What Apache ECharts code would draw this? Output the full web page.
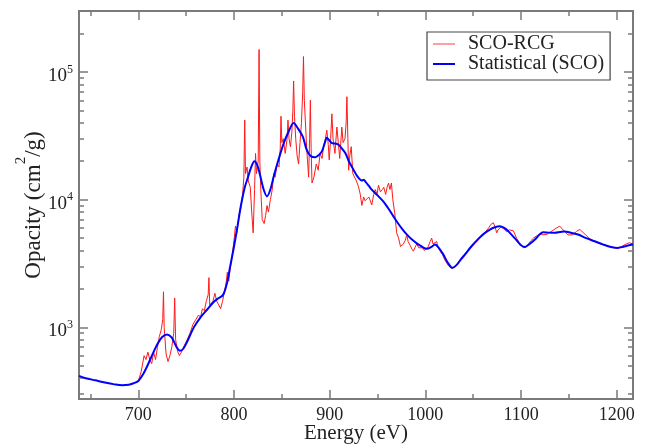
<!DOCTYPE html>
<html>
<head>
<meta charset="utf-8">
<script src="https://cdn.jsdelivr.net/npm/echarts@6/dist/echarts.min.js"></script>
<style>html,body{margin:0;padding:0;background:#fff}#c{width:649px;height:445px}</style>
</head>
<body>
<div id="c"></div>
<script>
// SCO-RCG (red, detailed spectrum)
var rcgEnergy = [700,703,706,708,710,712,714,716,718,720,722,724,725.5,726.3,727,729,731,733,735,737,738,739,741,743,745,748,751,754,757,760,763,765,767,769,771,773,773.8,774.6,776,778,780,782,784,786,788,790,792,793,794.5,796,798,800,801.5,803,805,807,809,810.3,811.2,812,813.6,815,817,818.5,820,821.5,822.5,823.5,825.3,826.2,827,828,829.5,831.5,833,834.5,836,838,840,841.5,843,845,847,848.3,849.1,850,851.5,853.5,855.5,856.4,857.5,859,860.5,861.5,862.3,863.2,864.5,866,867.5,869,870.5,871.8,872.6,873.5,874.5,876,878,879,879.8,880.6,881.5,883.5,886,888,890,892,893.6,895.5,897,898.5,899.5,901,902.3,903.5,905.5,907.5,909,910.5,912.7,914,916,917.2,918,919,919.8,921,922.5,924.2,926,928,930,932,933.6,935.5,937,938.8,941,944,946,947.6,949.5,951,953,955,956.5,958.5,960,961.5,963,964.5,966,968,970,972,974,975.5,977,979,980.5,982,984,986,987.5,989,991,993,995,997,999,1001,1003,1005,1006.6,1008,1010,1011.8,1013,1015,1018,1020.5,1024,1028,1032,1036,1040,1044,1048,1052,1055,1058.8,1062,1066,1068.5,1071,1073,1074.5,1076,1079,1082,1085,1088,1090,1092,1095.3,1098,1101,1104,1107,1110,1113,1116,1120,1123,1127,1131,1134,1137,1140.5,1143,1146,1149,1151,1154,1158,1161.5,1164,1167,1171,1175,1180,1185,1190,1195,1200,1205,1210,1213,1217];
var rcgOpacity = [380,450,600,560,640,560,520,640,560,700,850,960,1150,1900,1000,620,540,600,700,900,1700,800,650,600,640,720,800,900,1050,1150,1250,1200,1400,1350,1600,1800,2450,1500,1500,1600,1850,1600,1500,1400,1600,1900,2300,2700,2300,2900,3600,4800,6200,5500,7500,8500,11000,15000,42000,16000,18000,14000,12500,8000,5500,12000,23000,16000,20000,150000,20000,12000,7000,6500,7500,9000,8000,10000,12000,16000,15000,19000,18000,25000,45000,28000,30000,23000,30000,42000,30000,26000,34000,50000,85000,45000,30000,22000,19000,28000,40000,70000,132000,60000,42000,25000,15000,30000,60000,25000,13500,15000,19000,17000,23000,21000,26000,30000,35000,27000,20500,30000,47000,30000,23000,37000,28000,21000,37000,28000,30000,40000,64000,30000,17000,22000,26000,16000,15000,14000,12700,11000,9000,10500,9800,9500,10500,9100,11000,12000,11000,13000,11500,12000,12500,11000,12500,13500,12000,13500,10000,7800,5500,5000,4300,4200,4500,4800,5300,4700,4400,4100,3950,4200,4500,4200,4100,4200,4000,4100,4300,4700,5000,4500,4500,4700,4300,4000,3700,3350,3050,2900,3050,3350,3700,3950,4250,4550,4800,5200,5500,6000,6400,6600,6100,5500,5800,6100,5900,5600,5800,6000,5700,5000,4600,4300,4200,4400,4750,5000,5200,5400,5300,5350,5600,5800,6000,6200,5900,5600,5300,5150,5300,5650,5850,5600,5350,5000,4800,4600,4450,4350,4250,4200,4300,4500,4600,4500];
// Statistical (SCO) (blue, smooth)
var scoEnergy = [638,645,655,665,675,683,690,695,700,705,710,715,720,725,730,735,740,743.5,747,752,758,765,772,778,783,787.5,790,792.8,796,800,804,807,811,814,818,821.3,824.5,827.6,831,834.5,838,841.5,846,852,857,862.3,867,872,876,880,885,889,892,895,897,899,902.3,906,909.3,913,916.3,920,925,929,933.6,935.5,937.5,941,944,950,956,961,966.6,971,976.3,981,986,991,996,1001.4,1006,1010,1014,1018.8,1023,1028.2,1033,1037,1041.4,1048,1055.3,1061,1067.5,1072,1077.9,1084,1090,1096,1100,1104,1109,1114.5,1119,1123,1129,1135.3,1141,1145.7,1152,1159.6,1168,1177,1186,1194,1201.4,1207,1211.8,1217];
var scoOpacity = [417,400,385,370,358,352,355,365,380,430,510,620,740,840,880,830,700,655,680,800,1000,1200,1380,1560,1680,1760,1900,2240,3000,4300,6400,8800,12300,14500,18000,20000,18500,15200,12000,10600,12000,15200,20000,27700,34000,39800,36000,31000,24500,22000,21500,22500,24000,28000,30500,29500,27700,27500,26900,25000,23200,20000,17100,15200,14100,14300,13800,12800,11970,10800,9700,8600,7400,6600,5830,5300,4870,4550,4300,4120,4250,4450,4200,3715,3250,2925,3100,3400,3715,4300,4930,5400,5830,6050,6180,5900,5330,4750,4400,4260,4500,4870,5300,5560,5520,5500,5580,5640,5500,5330,5000,4720,4450,4260,4190,4280,4370,4450];
// ticks
var xMajorTicks = [700, 800, 900, 1000, 1100, 1200];
var xMinorTicks = [650, 750, 850, 950, 1050, 1150];
var yMajorTicks = [1000, 10000, 100000];
var yMinorTicks = [300,400,500,600,700,800,900,2000,3000,4000,5000,6000,7000,8000,9000,20000,30000,40000,50000,60000,70000,80000,90000,200000];
var seriesNames = ['SCO-RCG', 'Statistical (SCO)'];

function zip(a, b) { return a.map(function (v, i) { return [v, b[i]]; }); }

var FONT = 'Liberation Serif';
var frameColor = '#7a7a7a';
var textColor = '#222';
var X_MIN = 638, X_MAX = 1217, Y_MIN = 275, Y_MAX = 300000;

function xAx(pos, ticks, len, main) {
  var a = {
    type: 'value', min: X_MIN, max: X_MAX, position: pos,
    axisLine: { show: false }, splitLine: { show: false },
    axisTick: { show: true, inside: true, length: len, customValues: ticks, lineStyle: { color: frameColor, width: 1.5 } },
    axisLabel: { show: false }
  };
  if (main) {
    a.axisLabel = { show: true, customValues: ticks, margin: 7, fontSize: 18, fontFamily: FONT, color: textColor,
      formatter: function (v) { return String(v); } };
    a.name = 'Energy (eV)';
    a.nameLocation = 'middle';
    a.nameGap = 24;
    a.nameMoveOverlap = false;
    a.nameTextStyle = { fontSize: 21, fontFamily: FONT, color: textColor };
  }
  return a;
}
function yAx(pos, ticks, len, main) {
  var a = {
    type: 'log', logBase: 10, min: Y_MIN, max: Y_MAX, position: pos,
    axisLine: { show: false }, splitLine: { show: false },
    axisTick: { show: true, inside: true, length: len, customValues: ticks, lineStyle: { color: frameColor, width: 1.5 } },
    axisLabel: { show: false }
  };
  if (main) {
    a.axisLabel = {
      show: true, customValues: ticks, margin: 6,
      formatter: function (v) { return '{a|10}{b|' + Math.round(Math.log10(v)) + '}'; },
      rich: {
        a: { fontSize: 19, fontFamily: FONT, color: textColor, padding: [8, 0, 0, 0] },
        b: { fontSize: 12, fontFamily: FONT, color: textColor, verticalAlign: 'top', padding: [5, 0, 0, 0] }
      }
    };
    a.name = '{a|Opacity (cm}{b|2}{a|/g)}';
    a.nameLocation = 'middle';
    a.nameGap = 34;
    a.nameMoveOverlap = false;
    a.nameTextStyle = {
      fontFamily: FONT, color: textColor,
      rich: {
        a: { fontSize: 23, fontFamily: FONT, color: textColor, padding: [8, 0, 0, 0] },
        b: { fontSize: 15, fontFamily: FONT, color: textColor, verticalAlign: 'top' }
      }
    };
  }
  return a;
}

var chart = echarts.init(document.getElementById('c'), null, { renderer: 'canvas' });
chart.setOption({
  animation: false,
  backgroundColor: '#fff',
  grid: { left: 79, right: 16, top: 11, bottom: 46, show: true, borderColor: frameColor, borderWidth: 2, backgroundColor: 'transparent', containLabel: false, outerBoundsMode: 'none' },
  legend: {
    orient: 'vertical', left: 427, top: 32,
    data: [
      { name: seriesNames[0], icon: 'path://M0,0H22V1H0Z' },
      { name: seriesNames[1], icon: 'path://M0,0H22V2H0Z' }
    ],
    backgroundColor: '#fff', borderColor: '#444', borderWidth: 1.2, borderRadius: 0,
    padding: [2, 6, 6, 6], itemGap: 0, itemWidth: 22, itemHeight: 2,
    textStyle: { fontSize: 20, fontFamily: FONT, color: textColor, lineHeight: 20, padding: [0, 0, 0, 8] }
  },
  xAxis: [xAx('bottom', xMajorTicks, 9, true), xAx('bottom', xMinorTicks, 5, false), xAx('top', xMajorTicks, 9, false), xAx('top', xMinorTicks, 5, false)],
  yAxis: [yAx('left', yMajorTicks, 9, true), yAx('left', yMinorTicks, 5, false), yAx('right', yMajorTicks, 9, false), yAx('right', yMinorTicks, 5, false)],
  series: [
    { name: seriesNames[0], type: 'line', xAxisIndex: 0, yAxisIndex: 0, data: zip(rcgEnergy, rcgOpacity), showSymbol: false, symbol: 'none', lineStyle: { color: '#ff1a1a', width: 1 }, itemStyle: { color: '#ff4040' }, clip: true },
    { name: seriesNames[1], type: 'line', xAxisIndex: 0, yAxisIndex: 0, data: zip(scoEnergy, scoOpacity), showSymbol: false, symbol: 'none', smooth: 0.3, lineStyle: { color: '#0000ff', width: 2 }, itemStyle: { color: '#0000ff' }, clip: true }
  ]
});
</script>
</body>
</html>
